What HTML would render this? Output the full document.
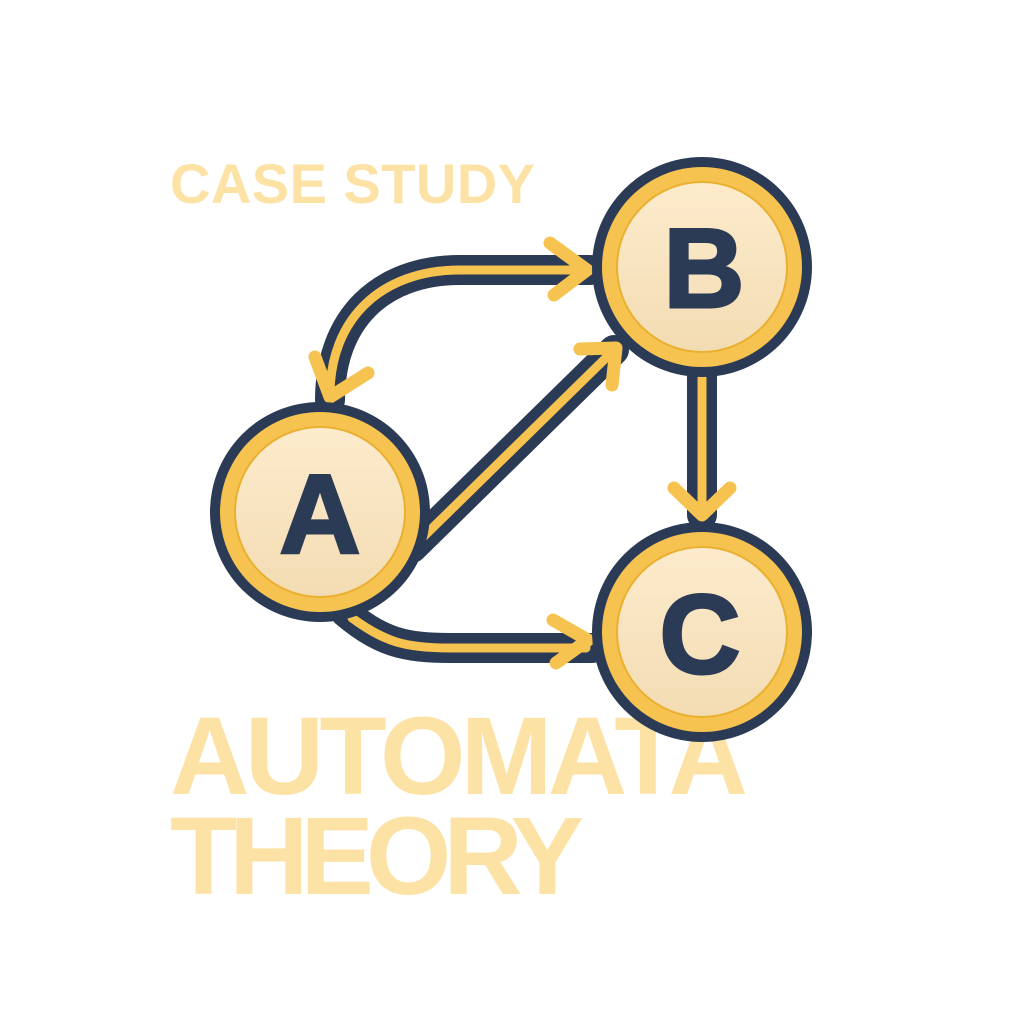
<!DOCTYPE html>
<html><head><meta charset="utf-8"><style>
html,body{margin:0;padding:0;background:#fff;}
svg{display:block;}
text{font-family:"Liberation Sans",sans-serif;font-weight:bold;}
</style></head><body>
<svg width="1024" height="1024" viewBox="0 0 1024 1024">
<defs>
<linearGradient id="cream" x1="0" y1="0" x2="0" y2="1">
<stop offset="0" stop-color="#fcebcc"/><stop offset="1" stop-color="#f3dcb3"/>
</linearGradient>
</defs>
<text x="170" y="203" font-size="56" fill="#fde2a6" textLength="365">CASE STUDY</text>
<text x="170" y="794" font-size="110" fill="#fde2a6" textLength="578">AUTOMATA</text>
<text x="170" y="894" font-size="110" fill="#fde2a6" textLength="414">THEORY</text>

<g fill="none" stroke-linecap="round" stroke-linejoin="round">
<g stroke="#2b3a55" stroke-width="30">
<path d="M330,400 C330,320 380,270 460,270 L590,270"/>
<path d="M412,548 L614,350"/>
<path d="M702,372 L702,515"/>
<path d="M345,612 C380,642 405,648 450,648 L592,648"/>
</g>
<g stroke="#f6c350" stroke-width="9">
<path d="M330,395 C330,320 380,270 460,270 L586,270"/>
<path d="M315,357 L330,397 L368,373" stroke-width="13"/>
<path d="M550,243 L587,270 L554,295" stroke-width="13"/>
<path d="M412,548 L614,350"/>
<path d="M580,349 L616,348 L612,385" stroke-width="13"/>
<path d="M702,378 L702,513"/>
<path d="M674,488 L702,515 L730,488" stroke-width="13"/>
<path d="M352,618 C385,642 405,648 450,648 L586,648"/>
<path d="M553,620 L588,640 L556,663" stroke-width="13"/>
</g>
</g>

<g>
<circle cx="320" cy="512" r="110" fill="#2b3a55"/>
<circle cx="320" cy="512" r="100" fill="#f6c350"/>
<circle cx="320" cy="512" r="85" fill="url(#cream)" stroke="#eab030" stroke-width="2"/>
<text x="320" y="553" font-size="112" fill="#2b3a55" stroke="#2b3a55" stroke-width="3" text-anchor="middle">A</text>
</g>
<g>
<circle cx="702" cy="267" r="110" fill="#2b3a55"/>
<circle cx="702" cy="267" r="100" fill="#f6c350"/>
<circle cx="702" cy="267" r="85" fill="url(#cream)" stroke="#eab030" stroke-width="2"/>
<text x="704" y="307" font-size="112" fill="#2b3a55" stroke="#2b3a55" stroke-width="3" text-anchor="middle">B</text>
</g>
<g>
<circle cx="702" cy="632" r="110" fill="#2b3a55"/>
<circle cx="702" cy="632" r="100" fill="#f6c350"/>
<circle cx="702" cy="632" r="85" fill="url(#cream)" stroke="#eab030" stroke-width="2"/>
<text x="700" y="673" font-size="112" fill="#2b3a55" stroke="#2b3a55" stroke-width="3" text-anchor="middle">C</text>
</g>
</svg>
</body></html>
